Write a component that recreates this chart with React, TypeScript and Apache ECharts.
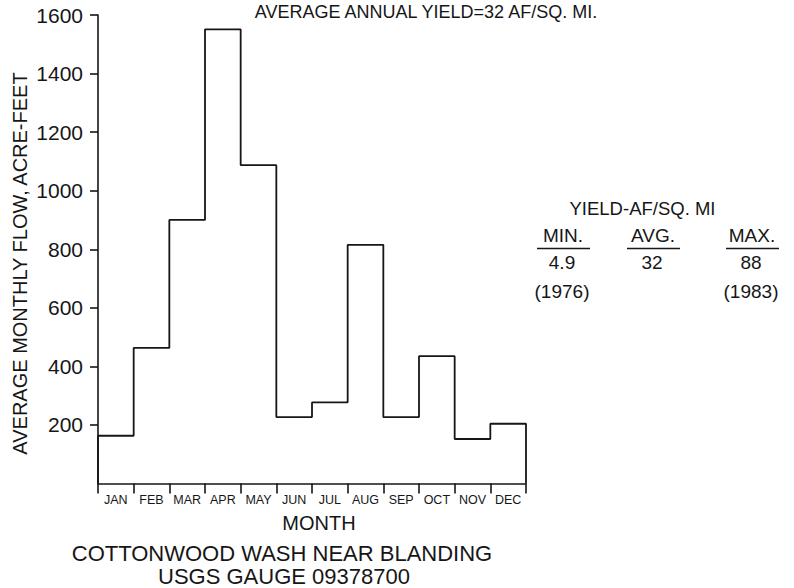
import React, { useEffect, useRef } from "react";
import * as echarts from "echarts";

const months = ["JAN", "FEB", "MAR", "APR", "MAY", "JUN", "JUL", "AUG", "SEP", "OCT", "NOV", "DEC"];
const flow = [163, 463, 900, 1551, 1087, 227, 277, 815, 227, 435, 152, 204];
const yTicks = [200, 400, 600, 800, 1000, 1200, 1400, 1600];
const monthCenters = months.map((_, i) => i + 0.5);
const monthBounds = [0, 1, 2, 3, 4, 5, 6, 7, 8, 9, 10, 11, 12];
const yieldHeads = ["MIN.", "AVG.", "MAX."];
const yieldValues = ["4.9", "32", "88"];
const yieldYears = ["(1976)", "", "(1983)"];

const FONT = '"Liberation Sans", Arial, Helvetica, sans-serif';
const INK = "#161616";

export default function App() {
  const ref = useRef<HTMLDivElement>(null);
  useEffect(() => {
    if (!ref.current) return;
    const chart = echarts.init(ref.current, undefined, { renderer: "svg" });
    const pts: number[][] = [[0, 0]];
    flow.forEach((v, i) => {
      pts.push([i, v]);
      pts.push([i + 1, v]);
    });
    pts.push([12, 0]);

    const colX = [563, 653, 752];
    const tableGraphics: any[] = [];
    yieldHeads.forEach((h, i) => {
      tableGraphics.push({
        type: "text",
        x: colX[i],
        y: 235,
        style: { text: h, font: `19px ${FONT}`, fill: INK, align: "center", verticalAlign: "middle" },
      });
      tableGraphics.push({
        type: "line",
        shape: { x1: colX[i] - 26, y1: 248.5, x2: colX[i] + 27, y2: 248.5 },
        style: { stroke: INK, lineWidth: 1.5 },
      });
      tableGraphics.push({
        type: "text",
        x: colX[i] - 1,
        y: 262.5,
        style: { text: yieldValues[i], font: `19px ${FONT}`, fill: INK, align: "center", verticalAlign: "middle" },
      });
      if (yieldYears[i]) {
        tableGraphics.push({
          type: "text",
          x: colX[i] - 1,
          y: 291,
          style: { text: yieldYears[i], font: `19px ${FONT}`, fill: INK, align: "center", verticalAlign: "middle" },
        });
      }
    });

    chart.setOption({
      animation: false,
      backgroundColor: "#ffffff",
      grid: { left: 98, top: 15, right: 268, bottom: 104.5, containLabel: false, outerBoundsMode: "none" },
      xAxis: {
        type: "value",
        min: 0,
        max: 12,
        interval: 1,
        axisLine: { show: true, lineStyle: { color: INK, width: 1.6 } },
        axisTick: { show: true, length: 10, customValues: monthBounds, lineStyle: { color: INK, width: 1.6 } },
        axisLabel: {
          show: true,
          customValues: monthCenters,
          formatter: (v: number) => months[Math.floor(v)] ?? "",
          margin: 10,
          fontSize: 12.5,
          fontFamily: FONT,
          color: INK,
        },
        splitLine: { show: false },
      },
      yAxis: {
        type: "value",
        min: 0,
        max: 1600,
        interval: 200,
        axisLine: { show: true, lineStyle: { color: INK, width: 1.6 } },
        axisTick: { show: true, length: 8, customValues: yTicks, lineStyle: { color: INK, width: 1.6 } },
        axisLabel: {
          show: true,
          customValues: yTicks,
          formatter: (v: number) => String(v),
          margin: 15,
          fontSize: 21,
          fontFamily: FONT,
          color: INK,
        },
        splitLine: { show: false },
      },
      series: [
        {
          type: "line",
          data: pts,
          symbol: "none",
          clip: false,
          lineStyle: { color: INK, width: 1.8 },
        },
      ],
      graphic: [
        {
          type: "text",
          x: 426,
          y: 11.5,
          style: { text: "AVERAGE ANNUAL YIELD=32 AF/SQ. MI.", font: `18px ${FONT}`, fill: INK, align: "center", verticalAlign: "middle" },
        },
        {
          type: "text",
          x: 20,
          y: 263.5,
          rotation: Math.PI / 2,
          style: { text: "AVERAGE MONTHLY FLOW, ACRE-FEET", font: `20px ${FONT}`, fill: INK, align: "center", verticalAlign: "middle" },
        },
        {
          type: "text",
          x: 319,
          y: 523,
          style: { text: "MONTH", font: `20px ${FONT}`, fill: INK, align: "center", verticalAlign: "middle" },
        },
        {
          type: "text",
          x: 282,
          y: 553,
          style: { text: "COTTONWOOD WASH NEAR BLANDING", font: `22px ${FONT}`, fill: INK, align: "center", verticalAlign: "middle" },
        },
        {
          type: "text",
          x: 284,
          y: 576,
          style: { text: "USGS GAUGE 09378700", font: `22px ${FONT}`, fill: INK, align: "center", verticalAlign: "middle" },
        },
        {
          type: "text",
          x: 642.5,
          y: 208.5,
          style: { text: "YIELD-AF/SQ. MI", font: `18.5px ${FONT}`, fill: INK, align: "center", verticalAlign: "middle" },
        },
        ...tableGraphics,
      ],
    });
    return () => chart.dispose();
  }, []);
  return <div ref={ref} style={{ position: "absolute", left: 0, top: 0, width: 794, height: 588, background: "#fff" }} />;
}
